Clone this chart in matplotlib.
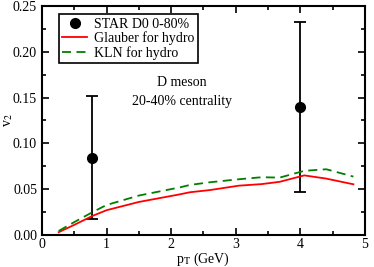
import matplotlib
matplotlib.use("Agg")
import matplotlib.pyplot as plt
from matplotlib.ticker import MultipleLocator
from matplotlib.lines import Line2D

plt.rcParams['font.family'] = ['Liberation Serif', 'DejaVu Serif']
plt.rcParams['mathtext.fontset'] = 'stix'

# Data
star_pt = [0.78, 4.0]
star_v2 = [0.084, 0.140]
star_lo = [0.017, 0.047]
star_hi = [0.152, 0.232]

glauber_pt = [0.26, 0.5, 0.78, 1.0, 1.5, 2.14, 2.29, 2.6, 3.05, 3.4, 3.68, 4.06, 4.4, 4.82]
glauber_v2 = [0.003, 0.011, 0.0207, 0.027, 0.036, 0.0444, 0.0466, 0.049, 0.0538, 0.0555, 0.058, 0.065, 0.0615, 0.0553]

kln_pt = [0.26, 0.5, 0.78, 1.0, 1.5, 2.14, 2.29, 2.6, 3.05, 3.4, 3.68, 4.06, 4.4, 4.82]
kln_v2 = [0.0044, 0.014, 0.0248, 0.0327, 0.043, 0.052, 0.0546, 0.0575, 0.0608, 0.063, 0.0626, 0.070, 0.0717, 0.0637]

fig = plt.figure(figsize=(3.74, 2.67), dpi=100)
ax = fig.add_axes([0.112, 0.12, 0.864, 0.858])

yerr = [[v - l for v, l in zip(star_v2, star_lo)], [h - v for v, h in zip(star_v2, star_hi)]]
ax.errorbar(star_pt, star_v2, yerr=yerr, fmt='o', color='black', ms=7, capsize=4,
            elinewidth=1.3, capthick=1.3)
h_gl, = ax.plot(glauber_pt, glauber_v2, color='red', lw=1.3)
h_kln, = ax.plot(kln_pt, kln_v2, color='#008000', lw=1.3, ls=(0, (5, 3)))
h_star = Line2D([], [], marker='o', color='black', ls='none', ms=7)

ax.set_xlim(0, 5)
ax.set_ylim(0, 0.25)
ax.xaxis.set_major_locator(MultipleLocator(1))
ax.xaxis.set_minor_locator(MultipleLocator(0.5))
ax.yaxis.set_major_locator(MultipleLocator(0.05))
ax.yaxis.set_minor_locator(MultipleLocator(0.025))
ax.yaxis.set_major_formatter(matplotlib.ticker.FormatStrFormatter('%.2f'))
ax.tick_params(which='both', direction='in', top=True, right=True, labelsize=10, width=1.2)
ax.tick_params(axis='x', pad=2)
ax.tick_params(which='major', length=5)
ax.tick_params(which='minor', length=3)
for s in ax.spines.values():
    s.set_linewidth(1.5)

ax.set_xlabel(r'p$_\mathrm{T}$ (GeV)', fontsize=10, labelpad=0)
ax.set_ylabel(r'v$_2$', fontsize=10)
ax.yaxis.set_label_coords(-0.082, 0.5)

ax.text(2.17, 0.166, 'D meson', ha='center', va='center', fontsize=10)
ax.text(2.17, 0.146, '20-40% centrality', ha='center', va='center', fontsize=10)

leg = ax.legend([h_star, h_gl, h_kln], ['STAR D0 0-80%', 'Glauber for hydro', 'KLN for hydro'],
                loc='upper left', bbox_to_anchor=(0.052, 0.963), fontsize=10, frameon=True,
                fancybox=False, edgecolor='black', framealpha=1, handlelength=1.8,
                borderpad=0.25, labelspacing=0.05, handletextpad=0.5, borderaxespad=0)
leg.get_frame().set_linewidth(1.2)

fig.savefig('out.png', dpi=100)
